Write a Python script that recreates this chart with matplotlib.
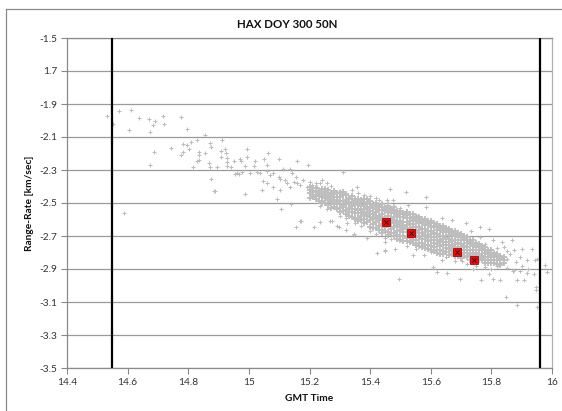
import matplotlib
matplotlib.use("Agg")
import matplotlib.pyplot as plt
from matplotlib.lines import Line2D

plt.rcParams['font.family'] = ['Lato', 'DejaVu Sans']

title = "HAX DOY 300 50N"
x_label = "GMT Time"
y_label = "Range-Rate [km/sec]"
x_ticks = [14.4, 14.6, 14.8, 15.0, 15.2, 15.4, 15.6, 15.8, 16.0]
x_tick_labels = ["14.4", "14.6", "14.8", "15", "15.2", "15.4", "15.6", "15.8", "16"]
y_ticks = [-3.5, -3.3, -3.1, -2.9, -2.7, -2.5, -2.3, -2.1, -1.9, -1.7, -1.5]
y_tick_labels = ["-3.5", "-3.3", "-3.1", "-2.9", "-2.7", "-2.5", "-2.3", "-2.1", "-1.9", "1.7", "-1.5"]
vline_x = [14.549, 15.961]

sparse_pts = [
    (14.533,-1.973),(14.573,-1.94),(14.612,-1.936),(14.639,-1.987),(14.672,-1.993),(14.691,-2.001),
    (14.716,-1.973),(14.683,-2.025),(14.72,-2.023),(14.606,-2.058),(14.674,-2.072),(14.777,-1.981),
    (14.795,-2.05),(14.687,-2.193),(14.674,-2.27),(14.742,-2.167),(14.782,-2.142),(14.797,-2.147),
    (14.81,-2.128),(14.828,-2.12),(14.777,-2.207),(14.784,-2.189),(14.804,-2.175),(14.856,-2.086),
    (14.872,-2.138),(14.876,-2.159),(14.837,-2.189),(14.835,-2.209),(14.854,-2.199),(14.828,-2.244),
    (14.837,-2.239),(14.817,-2.28),(14.87,-2.256),(14.872,-2.28),(14.894,-2.28),(14.912,-2.118),
    (14.907,-2.183),(14.922,-2.171),(14.925,-2.195),(14.909,-2.219),(14.927,-2.229),(14.927,-2.252),
    (14.927,-2.276),(14.951,-2.247),(14.94,-2.284),(14.953,-2.324),(14.967,-2.324),(14.971,-2.235),
    (14.876,-2.353),(14.887,-2.427),(14.588,-2.559),(14.551,-2.021),
    (14.993,-2.171),(14.993,-2.219),(14.975,-2.244),(14.988,-2.276),(15.019,-2.244),(15.017,-2.276),
    (15.05,-2.235),(15.061,-2.268),(15.063,-2.195),(15.101,-2.235),(14.962,-2.32),(14.978,-2.31),
    (15.004,-2.316),(15.026,-2.312),(15.037,-2.32),(15.059,-2.308),(15.07,-2.332),(15.081,-2.32),
    (15.099,-2.34),(15.103,-2.356),(15.112,-2.292),(15.136,-2.292),(15.158,-2.247),(15.195,-2.268),
    (15.143,-2.32),(15.154,-2.34),(15.048,-2.369),(15.059,-2.381),(15.044,-2.421),(15.081,-2.401),
    (15.103,-2.421),(15.125,-2.381),(15.136,-2.401),(15.158,-2.381),(15.18,-2.361),(15.191,-2.401),
    (15.209,-2.393),(15.224,-2.401),(15.235,-2.381),(15.257,-2.381),(15.25,-2.421),(15.268,-2.437),
    (15.29,-2.441),(15.312,-2.312),(15.356,-2.401),(14.986,-2.445),(15.092,-2.474),(15.105,-2.534),
    (15.14,-2.506),(15.173,-2.611),(15.154,-2.644),(15.215,-2.648),(15.235,-2.615),(15.266,-2.611),
    (15.297,-2.644),(15.323,-2.624),(15.233,-2.518),(15.257,-2.538),(15.347,-2.695),(15.389,-2.712),
    (14.885,-2.429),(15.169,-2.611),(15.275,-2.611),(15.29,-2.639),(15.321,-2.664),(15.347,-2.688),
    (15.45,-2.736),(15.422,-2.805),(15.45,-2.785),(15.495,-2.959),(15.466,-2.417),(15.477,-2.482),
    (15.519,-2.433),(15.583,-2.466),(15.455,-2.482),(15.525,-2.51),(15.583,-2.522),(15.638,-2.591),
    (15.671,-2.603),(15.715,-2.619),(15.763,-2.643),(15.792,-2.659),(15.697,-2.684),(15.732,-2.672),
    (15.763,-2.704),(15.807,-2.724),(15.836,-2.736),(15.869,-2.724),(15.84,-2.765),(15.873,-2.785),
    (15.902,-2.777),(15.935,-2.781),(15.895,-2.825),(15.917,-2.845),(15.944,-2.845),(15.95,-2.841),
    (15.977,-2.873),(15.983,-2.918),(15.829,-2.865),(15.851,-2.893),(15.873,-2.906),(15.895,-2.914),
    (15.917,-2.926),(15.886,-2.967),(15.906,-2.967),(15.792,-2.93),(15.767,-2.967),(15.807,-2.959),
    (15.829,-2.967),(15.697,-2.962),(15.741,-2.902),(15.653,-2.922),(15.62,-2.918),(15.609,-2.89),
    (15.847,-3.071),(15.884,-3.116),(15.946,-3.007),(15.946,-3.027),(15.95,-3.128),(15.448,-2.789),
    (15.483,-2.781),(15.543,-2.817),(15.578,-2.817),(15.638,-2.845),(15.704,-2.853),
    (15.12,-2.36),(15.15,-2.37),(15.17,-2.39),(15.2,-2.37),(15.22,-2.38),(15.24,-2.36),(15.27,-2.40),
    (15.28,-2.42),(15.3,-2.43),(15.32,-2.45),(15.34,-2.42),(15.36,-2.44),(15.38,-2.45),(15.4,-2.46),
    (15.42,-2.47),(15.43,-2.48),(15.3,-2.58),(15.32,-2.59),(15.35,-2.62),(15.37,-2.64),(15.4,-2.67),
    (15.42,-2.69),(15.45,-2.71),(15.47,-2.72),(15.52,-2.76),(15.55,-2.78),(15.6,-2.8),(15.65,-2.83),
    (15.68,-2.85),(15.72,-2.87),(15.75,-2.88),(15.78,-2.89),(15.8,-2.9),(15.82,-2.88),(15.85,-2.84),
    (15.86,-2.81),(15.88,-2.86),(15.9,-2.88),(15.87,-2.91),(15.92,-2.90),(15.94,-2.93),(15.78,-2.75),
    (15.82,-2.77),(15.85,-2.79),(15.6,-2.62),(15.64,-2.65),(15.68,-2.68),(15.72,-2.70),(15.55,-2.57),
    (15.5,-2.53),(15.46,-2.50),(15.52,-2.55),
]

core_x = [15.20, 15.21, 15.22, 15.23, 15.24, 15.25, 15.26, 15.27, 15.28, 15.29,
          15.30, 15.31, 15.32, 15.33, 15.34, 15.35, 15.36, 15.37, 15.38, 15.39,
          15.40, 15.41, 15.42, 15.43, 15.44, 15.45, 15.46, 15.47, 15.48, 15.49,
          15.50, 15.51, 15.52, 15.53, 15.54, 15.55, 15.56, 15.57, 15.58, 15.59,
          15.60, 15.61, 15.62, 15.63, 15.64, 15.65, 15.66, 15.67, 15.68, 15.69,
          15.70, 15.71, 15.72, 15.73, 15.74, 15.75, 15.76, 15.77, 15.78, 15.79,
          15.80, 15.81, 15.82, 15.83, 15.84]
core_y = [
    [-2.404, -2.437, -2.468, -2.421],
    [-2.412, -2.449, -2.461, -2.43],
    [-2.407, -2.452, -2.476, -2.433],
    [-2.428, -2.458, -2.489, -2.441],
    [-2.416, -2.463, -2.487, -2.446, -2.503],
    [-2.431, -2.469, -2.498, -2.413, -2.452],
    [-2.423, -2.447, -2.484, -2.512, -2.466],
    [-2.437, -2.474, -2.496, -2.528, -2.455],
    [-2.428, -2.463, -2.487, -2.523, -2.506, -2.447],
    [-2.442, -2.479, -2.502, -2.538, -2.461],
    [-2.438, -2.466, -2.504, -2.532, -2.553, -2.487],
    [-2.451, -2.488, -2.512, -2.548, -2.433, -2.527],
    [-2.447, -2.483, -2.507, -2.543, -2.564, -2.498],
    [-2.468, -2.491, -2.529, -2.552, -2.578, -2.475],
    [-2.457, -2.494, -2.517, -2.553, -2.584, -2.509, -2.538],
    [-2.478, -2.502, -2.539, -2.561, -2.598, -2.487],
    [-2.473, -2.497, -2.534, -2.558, -2.593, -2.612, -2.544, -2.515],
    [-2.482, -2.519, -2.542, -2.578, -2.601, -2.496, -2.563],
    [-2.477, -2.513, -2.536, -2.574, -2.597, -2.624, -2.553, -2.492],
    [-2.497, -2.522, -2.559, -2.581, -2.618, -2.473, -2.539],
    [-2.488, -2.524, -2.547, -2.583, -2.606, -2.643, -2.568, -2.506],
    [-2.508, -2.532, -2.567, -2.592, -2.628, -2.652, -2.519],
    [-2.497, -2.534, -2.557, -2.594, -2.617, -2.654, -2.578, -2.513],
    [-2.518, -2.542, -2.578, -2.601, -2.638, -2.662, -2.527, -2.589],
    [-2.507, -2.543, -2.568, -2.603, -2.628, -2.664, -2.683, -2.524, -2.586],
    [-2.528, -2.551, -2.588, -2.612, -2.648, -2.671, -2.537, -2.597],
    [-2.518, -2.554, -2.577, -2.613, -2.636, -2.673, -2.692, -2.533, -2.595],
    [-2.538, -2.562, -2.598, -2.621, -2.658, -2.682, -2.547, -2.609],
    [-2.527, -2.563, -2.587, -2.624, -2.647, -2.684, -2.703, -2.544, -2.606],
    [-2.548, -2.572, -2.608, -2.631, -2.668, -2.692, -2.717, -2.557, -2.619],
    [-2.546, -2.583, -2.607, -2.643, -2.666, -2.703, -2.722, -2.564, -2.626],
    [-2.558, -2.582, -2.618, -2.642, -2.678, -2.701, -2.728, -2.567, -2.659],
    [-2.557, -2.593, -2.616, -2.653, -2.677, -2.712, -2.733, -2.574, -2.636],
    [-2.568, -2.592, -2.628, -2.652, -2.688, -2.712, -2.738, -2.608, -2.667],
    [-2.567, -2.603, -2.627, -2.663, -2.686, -2.723, -2.742, -2.585, -2.646],
    [-2.583, -2.607, -2.643, -2.667, -2.703, -2.727, -2.753, -2.596, -2.682],
    [-2.587, -2.623, -2.647, -2.684, -2.707, -2.743, -2.762, -2.604, -2.666],
    [-2.598, -2.622, -2.658, -2.682, -2.718, -2.742, -2.768, -2.611, -2.697],
    [-2.597, -2.633, -2.657, -2.694, -2.717, -2.753, -2.772, -2.614, -2.676],
    [-2.608, -2.632, -2.668, -2.692, -2.728, -2.752, -2.778, -2.621, -2.707],
    [-2.607, -2.643, -2.667, -2.704, -2.727, -2.763, -2.782, -2.624, -2.686],
    [-2.623, -2.647, -2.683, -2.707, -2.743, -2.767, -2.793, -2.638, -2.722],
    [-2.627, -2.663, -2.687, -2.724, -2.747, -2.783, -2.802, -2.644, -2.706],
    [-2.638, -2.662, -2.698, -2.722, -2.758, -2.782, -2.808, -2.651, -2.737],
    [-2.637, -2.673, -2.697, -2.734, -2.757, -2.793, -2.812, -2.654, -2.716],
    [-2.653, -2.677, -2.713, -2.737, -2.773, -2.797, -2.666, -2.752],
    [-2.657, -2.693, -2.717, -2.754, -2.777, -2.813, -2.674, -2.736],
    [-2.668, -2.692, -2.728, -2.752, -2.788, -2.812, -2.681, -2.767],
    [-2.667, -2.703, -2.727, -2.764, -2.787, -2.823, -2.684, -2.746],
    [-2.683, -2.707, -2.743, -2.767, -2.803, -2.822, -2.696, -2.782],
    [-2.687, -2.723, -2.747, -2.784, -2.807, -2.833, -2.704, -2.766],
    [-2.703, -2.727, -2.763, -2.787, -2.823, -2.716, -2.802],
    [-2.707, -2.743, -2.767, -2.804, -2.827, -2.724, -2.786],
    [-2.723, -2.747, -2.783, -2.807, -2.843, -2.736, -2.822],
    [-2.727, -2.763, -2.787, -2.824, -2.847, -2.744, -2.806],
    [-2.743, -2.767, -2.803, -2.827, -2.853, -2.756, -2.816],
    [-2.747, -2.783, -2.807, -2.844, -2.764, -2.826],
    [-2.763, -2.787, -2.823, -2.847, -2.776, -2.836],
    [-2.767, -2.803, -2.827, -2.864, -2.784, -2.846],
    [-2.783, -2.807, -2.843, -2.862, -2.796, -2.826],
    [-2.787, -2.823, -2.847, -2.804, -2.866],
    [-2.803, -2.827, -2.863, -2.816, -2.844],
    [-2.807, -2.843, -2.867, -2.824],
    [-2.823, -2.847, -2.874, -2.836],
    [-2.827, -2.862, -2.844],
]

# highlighted observations
red_x = [15.454, 15.535, 15.688, 15.744]
red_y = [-2.615, -2.682, -2.795, -2.844]

W, H = 562, 411
fig = plt.figure(figsize=(W / 100, H / 100), dpi=100)
ax = fig.add_axes([67 / W, 1 - 368 / H, (552 - 67) / W, (368 - 38) / H])

sx = [p[0] for p in sparse_pts]
sy = [p[1] for p in sparse_pts]
cx, cy = [], []
for xc, ys in zip(core_x, core_y):
    for yv in ys:
        cx.append(xc)
        cy.append(yv)

gray = '#bdbdbd'
ax.plot(sx, sy, linestyle='none', marker='+', markersize=3.4,
        markeredgewidth=0.75, color=gray, zorder=3)
ax.plot(cx, cy, linestyle='none', marker='+', markersize=4.6,
        markeredgewidth=1.3, color=gray, zorder=3)

for xv in vline_x:
    ax.axvline(xv, color='black', linewidth=1.6, zorder=4)

ax.plot(red_x, red_y, linestyle='none', marker='s', markersize=5.2,
        markerfacecolor='#ff0000', markeredgecolor='#800000', markeredgewidth=0.5, zorder=5)
ax.plot(red_x, red_y, linestyle='none', marker='x', markersize=2.3,
        markeredgewidth=0.6, color='black', zorder=6)

ax.set_xlim(14.4, 16.0)
ax.set_ylim(-3.5, -1.5)
ax.set_xticks(x_ticks)
ax.set_xticklabels(x_tick_labels)
ax.set_yticks(y_ticks)
ax.set_yticklabels(y_tick_labels)
ax.tick_params(axis='both', direction='out', length=4, width=0.8, color='#888888',
               labelsize=7.3, labelcolor='#333333', pad=3)
ax.grid(axis='y', color='#9a9a9a', linewidth=0.9, zorder=1)
ax.set_axisbelow(True)
for side in ['left', 'bottom', 'right', 'top']:
    ax.spines[side].set_color('#8a8a8a')
    ax.spines[side].set_linewidth(0.9)
ax.spines['right'].set_color('#b0b0b0')

fig.text(287 / W, 1 - 25 / H, title, ha='center', va='center',
         fontsize=8.3, fontweight='bold', color='#111111')
fig.text(309.5 / W, 1 - 398 / H, x_label, ha='center', va='center',
         fontsize=7.3, fontweight='bold', color='#111111')
fig.text(30 / W, 1 - 203 / H, y_label, ha='center', va='center', rotation=90,
         fontsize=7.3, fontweight='bold', color='#111111')

# outer chart border
fig.add_artist(Line2D([6 / W, 6 / W], [0, 1 - 9 / H], transform=fig.transFigure,
                      color='#8a8a8a', linewidth=0.9))
fig.add_artist(Line2D([6 / W, 1], [1 - 9 / H, 1 - 9 / H], transform=fig.transFigure,
                      color='#8a8a8a', linewidth=0.9))

fig.savefig("out.png", dpi=100)
